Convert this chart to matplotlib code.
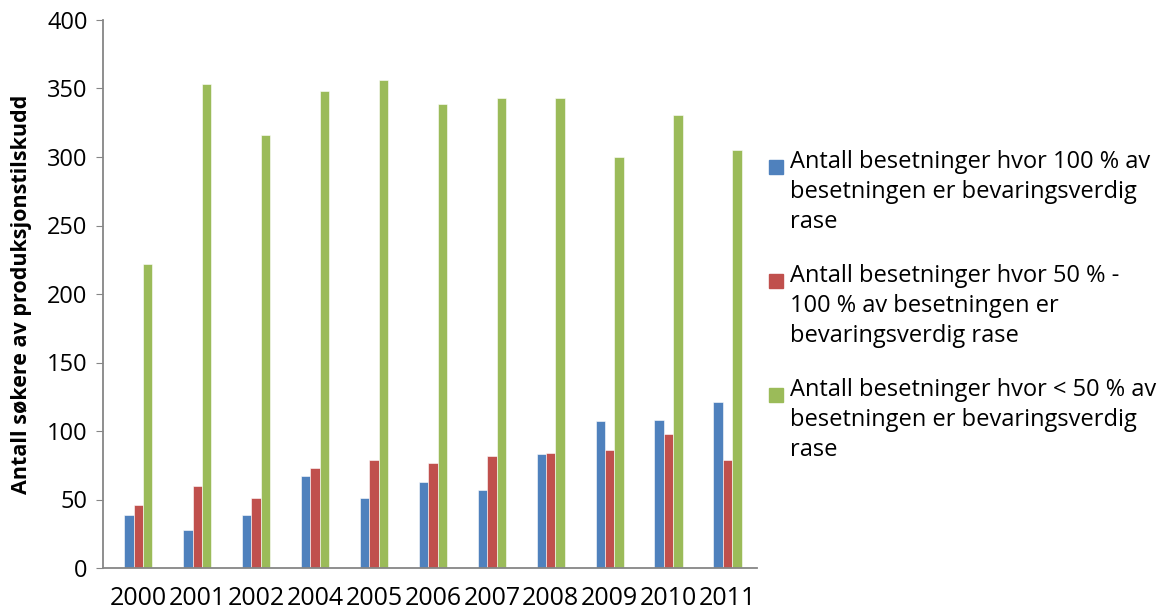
import matplotlib
matplotlib.use("Agg")
import matplotlib.pyplot as plt
import numpy as np
from matplotlib.patches import Rectangle

years = ["2000", "2001", "2002", "2004", "2005", "2006", "2007", "2008", "2009", "2010", "2011"]
s100 = [39, 28, 39, 67, 51, 63, 57, 83, 107, 108, 121]
s50_100 = [46, 60, 51, 73, 79, 77, 82, 84, 86, 98, 79]
s_lt50 = [222, 353, 316, 348, 356, 339, 343, 343, 300, 331, 305]
labels = [
    "Antall besetninger hvor 100 % av\nbesetningen er bevaringsverdig\nrase",
    "Antall besetninger hvor 50 % -\n100 % av besetningen er\nbevaringsverdig rase",
    "Antall besetninger hvor < 50 % av\nbesetningen er bevaringsverdig\nrase",
]
colors = ["#4F81BD", "#C0504D", "#9BBB59"]
ylabel = "Antall søkere av produksjonstilskudd"

plt.rcParams['font.family'] = ['Open Sans', 'DejaVu Sans']

fig = plt.figure(figsize=(11.61, 6.14), dpi=100)
ax = fig.add_axes([103/1161, 1 - 568/614, (757-103)/1161, (568-20)/614])

x = np.arange(len(years))
w = 0.16
for i, (vals, c) in enumerate(zip([s100, s50_100, s_lt50], colors)):
    ax.bar(x + (i - 1) * w, vals, width=w, color=c, edgecolor='white', linewidth=0.4)

ax.set_xlim(-0.6, len(years) - 0.5)
ax.set_ylim(0, 400)
ax.set_yticks(range(0, 401, 50))
ax.set_xticks(x)
ax.set_xticklabels(years)
for s in ['top', 'right']:
    ax.spines[s].set_visible(False)
for s in ['left', 'bottom']:
    ax.spines[s].set_color('#868686')
    ax.spines[s].set_linewidth(1.3)
ax.tick_params(axis='y', length=5, color='#868686', labelsize=17, pad=6)
ax.tick_params(axis='x', length=0, labelsize=18, pad=13)
ax.set_ylabel(ylabel, fontsize=15.5, fontweight='bold', labelpad=11)

# legend
tops = [167, 281, 395]
for lab, c, yc in zip(labels, colors, tops):
    fig.patches.append(Rectangle((769/1161, 1 - (yc + 7)/614), 14/1161, 14/614,
                                 transform=fig.transFigure, color=c, figure=fig))
    fig.text(790/1161, 1 - (yc - 17)/614, lab, fontsize=17, va='top', ha='left',
             linespacing=1.32)

fig.savefig("out.png", dpi=100)
